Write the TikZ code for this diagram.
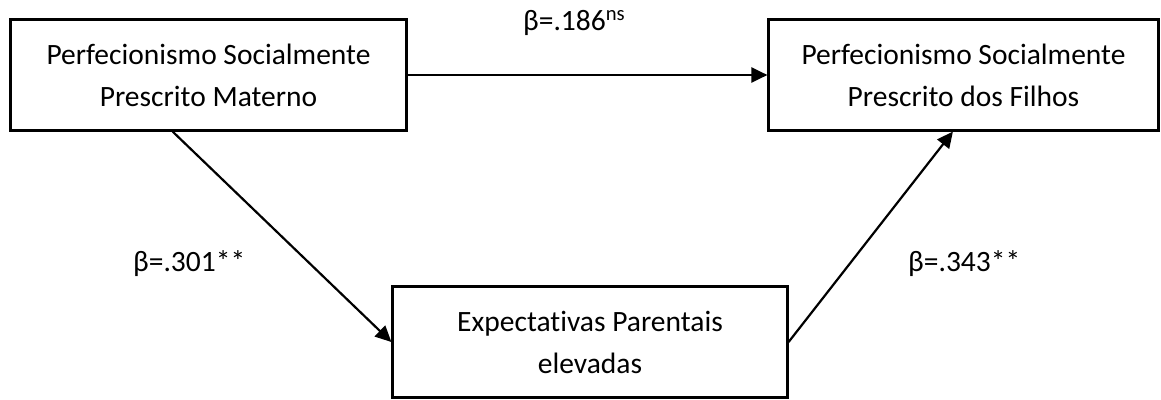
\documentclass[tikz,border=0pt]{standalone}
\usepackage{fontspec}
\setmainfont{Carlito}[Ligatures=NoCommon]
\usetikzlibrary{arrows.meta,calc}

\begin{document}
\begin{tikzpicture}[x=1pt,y=-1pt,
  box/.style={draw, line width=2.2pt, align=center, inner sep=0pt,
    minimum height=111pt, font=\fontsize{29.5}{42}\selectfont},
  path/.style={-{Triangle[length=16pt,width=15pt]}, line width=2.2pt},
  coef/.style={anchor=base west, inner sep=0pt, font=\fontsize{29.5}{34}\selectfont}]
\useasboundingbox (0,0) rectangle (1161,399);
% Variables
\node[box, minimum width=396pt] (pspm) at (208.5,75) {Perfecionismo Socialmente\\Prescrito Materno};
\node[box, minimum width=390pt] (pspf) at (963.5,75) {Perfecionismo Socialmente\\Prescrito dos Filhos};
\node[box, minimum width=395pt] (epe) at (590,342) {Expectativas Parentais\\elevadas};

% Paths
\draw[path] (pspm) -- (pspf);
\draw[path] ($(pspm.south west)!0.41!(pspm.south east)$) -- (epe.west);
\draw[path] (epe.east) -- ($(pspf.south west)!0.473!(pspf.south east)$);

% Coefficients
\node[coef] (c1) at (523,30) {β=.186\textsuperscript{ns}};
\node[coef] (c2) at (133,271) {β=.301**};
\node[coef] (c3) at (908,271) {β=.343**};
\end{tikzpicture}
\end{document}
